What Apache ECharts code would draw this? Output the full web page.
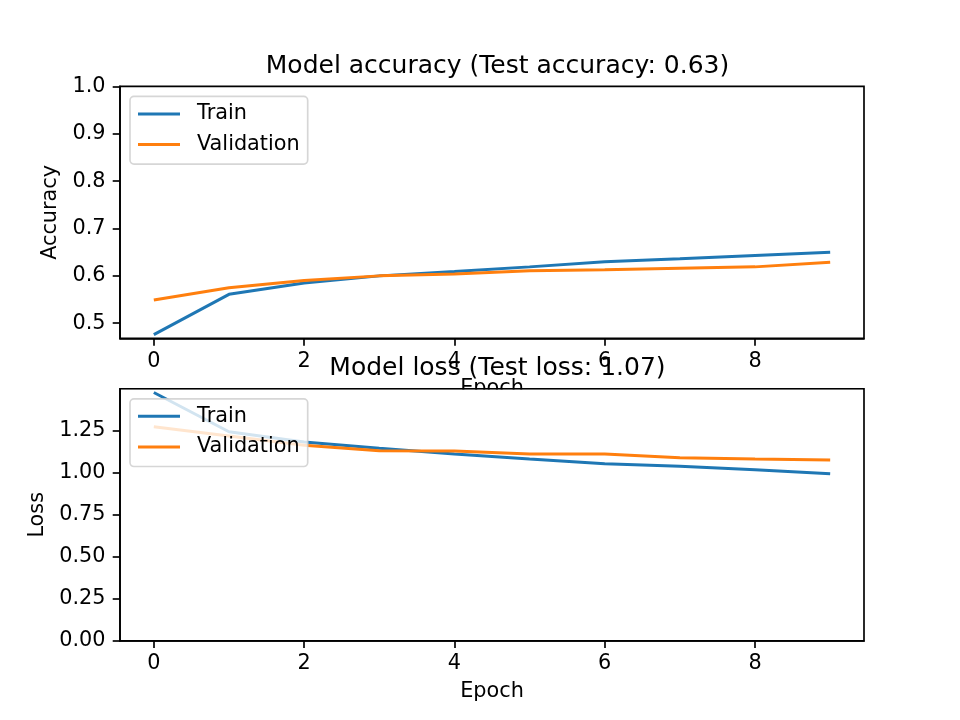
<!DOCTYPE html>
<html>
<head>
<meta charset="utf-8">
<script src="https://cdn.jsdelivr.net/npm/echarts@6/dist/echarts.min.js"></script>
<style>html,body{margin:0;padding:0;background:#fff}#c{width:960px;height:720px}</style>
</head>
<body>
<div id="c"></div>
<script>
const epochs = [0, 1, 2, 3, 4, 5, 6, 7, 8, 9];
const accTrain = [0.476, 0.561, 0.585, 0.600, 0.609, 0.619, 0.630, 0.636, 0.643, 0.650];
const accVal = [0.549, 0.575, 0.590, 0.600, 0.604, 0.611, 0.613, 0.616, 0.619, 0.629];
const lossTrain = [1.480, 1.246, 1.185, 1.147, 1.113, 1.083, 1.056, 1.040, 1.020, 0.996];
const lossVal = [1.276, 1.220, 1.165, 1.133, 1.131, 1.113, 1.113, 1.091, 1.083, 1.077];
const xTicks = [0, 2, 4, 6, 8];
const accTicks = [0.5, 0.6, 0.7, 0.8, 0.9, 1.0];
const lossTicks = [0, 0.25, 0.5, 0.75, 1.0, 1.25];
const titles = ['Model accuracy (Test accuracy: 0.63)', 'Model loss (Test loss: 1.07)'];

const FONT = 'DejaVu Sans';
const FS = 20.8;
const BLUE = '#1f77b4', ORANGE = '#ff7f0e';
const pairs = (ys) => epochs.map((e, i) => [e, ys[i]]);

function xAxis(gi) {
  return {
    type: 'value', gridIndex: gi, min: -0.45, max: 9.45,
    name: 'Epoch', nameLocation: 'middle', nameGap: 40,
    nameTextStyle: {fontFamily: FONT, fontSize: FS, color: '#000'},
    axisLine: {show: true, onZero: false, lineStyle: {color: '#000', width: 1.67}},
    axisTick: {show: true, length: 7.3, customValues: xTicks, lineStyle: {color: '#000', width: 1.67}},
    axisLabel: {customValues: xTicks, margin: 12.5, fontFamily: FONT, fontSize: FS, color: '#000'},
    splitLine: {show: false}
  };
}
function yAxis(gi, min, max, ticks, name, gap, dec) {
  return {
    type: 'value', gridIndex: gi, min: min, max: max,
    name: name, nameLocation: 'middle', nameGap: gap, nameRotate: 90,
    nameTextStyle: {fontFamily: FONT, fontSize: FS, color: '#000'},
    axisLine: {show: true, onZero: false, lineStyle: {color: '#000', width: 1.67}},
    axisTick: {show: true, length: 7.3, customValues: ticks, lineStyle: {color: '#000', width: 1.67}},
    axisLabel: {customValues: ticks, margin: 14.5, fontFamily: FONT, fontSize: FS, color: '#000',
      formatter: (v) => Number(v).toFixed(dec)},
    splitLine: {show: false}
  };
}
function legend(top) {
  return {
    orient: 'vertical', left: 130, top: top,
    data: [{name: 'Train', icon: 'rect'}, {name: 'Validation', icon: 'rect'}],
    itemWidth: 42, itemHeight: 3, itemGap: 9.7,
    padding: [7, 8, 9, 8],
    backgroundColor: 'rgba(255,255,255,0.8)', borderColor: 'rgba(204,204,204,0.8)', borderWidth: 1.67, borderRadius: 4,
    textStyle: {fontFamily: FONT, fontSize: FS, color: '#000', padding: [0, 0, 0, 12]},
    selectedMode: false
  };
}
function line(name, color, gi, ys) {
  return {
    name: name, type: 'line', xAxisIndex: gi, yAxisIndex: gi, data: pairs(ys),
    showSymbol: false, symbol: 'none', lineStyle: {color: color, width: 3}, itemStyle: {color: color},
    emphasis: {disabled: true}, clip: true, z: 3
  };
}

const chart = echarts.init(document.getElementById('c'));
chart.setOption({
  animation: false,
  backgroundColor: '#fff',
  title: [
    {text: titles[0], left: 492.5, top: 49, textAlign: 'center', textStyle: {fontFamily: FONT, fontSize: 25, fontWeight: 'normal', color: '#000'}},
    {text: titles[1], left: 492.5, top: 351, textAlign: 'center', textStyle: {fontFamily: FONT, fontSize: 25, fontWeight: 'normal', color: '#000'}, z: 10}
  ],
  grid: [
    {left: 120, right: 96, top: 86.4, height: 252, show: true, borderColor: '#000', borderWidth: 1.67, backgroundColor: 'transparent'},
    {left: 120, right: 96, top: 388.8, height: 252, show: true, borderColor: '#000', borderWidth: 1.67, backgroundColor: 'transparent'}
  ],
  graphic: {
    elements: [{type: 'rect', z: 1, shape: {x: 121, y: 389.8, width: 742, height: 250}, style: {fill: '#fff'}, silent: true}]
  },
  xAxis: [xAxis(0), xAxis(1)],
  yAxis: [yAxis(0, 0.468, 1.0, accTicks, 'Accuracy', 56, 1), yAxis(1, 0, 1.502, lossTicks, 'Loss', 68, 2)],
  legend: [legend(96.4), legend(398.8)],
  series: [
    line('Train', BLUE, 0, accTrain), line('Validation', ORANGE, 0, accVal),
    line('Train', BLUE, 1, lossTrain), line('Validation', ORANGE, 1, lossVal)
  ]
});
</script>
</body>
</html>
